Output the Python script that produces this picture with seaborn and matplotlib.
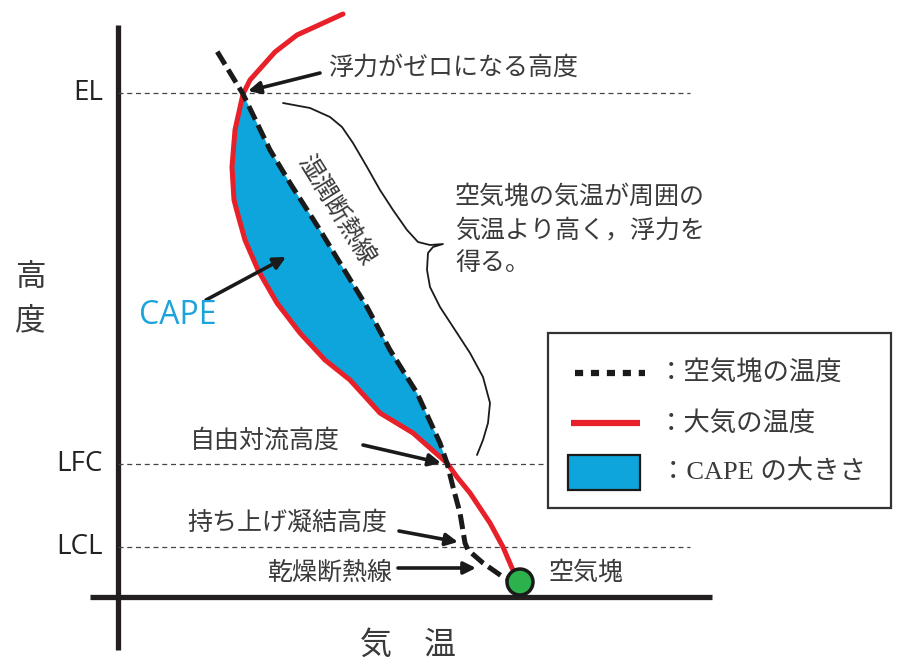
import numpy as np
import seaborn as sns
import matplotlib.pyplot as plt
from matplotlib.patches import Rectangle, Circle

# schematic units: x = temperature (left -> right), y = height (drawn top -> down)
env_t = [343, 297, 275, 250, 243, 235, 232, 234, 238, 245, 258, 277, 300, 325,
         350, 380, 413, 447, 457, 470, 490, 503, 512, 520]
env_z = [14, 35, 52, 80, 94, 130, 167, 200, 215, 240, 270, 303, 333, 360,
         380, 413, 433, 463, 477, 493, 523, 547, 568, 582]

parcel_t = [520, 503, 483, 468, 465, 460, 453, 447, 440, 417, 390, 367, 340,
            320, 290, 270, 243, 215]
parcel_z = [583, 577, 563, 550, 543, 513, 487, 463, 443, 393, 350, 307, 263,
            230, 183, 150, 94, 48]

brace_t = [283, 310, 330, 342, 353, 367, 380, 393, 407, 418, 430, 443,
           433, 428, 427, 430, 440, 457, 470, 483, 490, 488, 483, 477]
brace_z = [103, 108, 117, 127, 143, 167, 190, 210, 230, 242, 245, 244,
           247, 253, 270, 287, 307, 333, 353, 377, 403, 423, 440, 455]

level_names = ['EL', 'LFC', 'LCL']
level_z = [93, 464, 547]
level_end = [690, 548, 690]

sns.set_style('white')
plt.rcParams['font.family'] = ['Noto Sans CJK JP', 'DejaVu Sans']

fig = plt.figure(figsize=(8.98, 6.6), dpi=100)
ax = fig.add_axes([0, 0, 1, 1])
ax.set_xlim(0, 898)
ax.set_ylim(660, 0)
ax.axis('off')

txt = '#3a3a3a'

# axes of the diagram
ax.plot([118, 118], [25, 650], color='#231f20', lw=3.8, solid_capstyle='butt')
ax.plot([90, 712], [597, 597], color='#231f20', lw=3.8, solid_capstyle='butt')

# level lines
for name, z, x1 in zip(level_names, level_z, level_end):
    ax.plot([118, x1], [z, z], color='#444444', lw=0.9, ls=(0, (4, 3)))
    ax.text(103, z, name, ha='right', va='center', fontsize=20,
            family='Open Sans', color='#222222')

# CAPE area between EL and LFC
i0, i1 = env_t.index(243), env_t.index(447)
j0, j1 = parcel_t.index(447), parcel_t.index(243)
fill_t = env_t[i0:i1 + 1] + parcel_t[j0:j1 + 1]
fill_z = env_z[i0:i1 + 1] + parcel_z[j0:j1 + 1]
ax.fill(fill_t, fill_z, color='#0ea5dc', lw=0, zorder=2)

# environment and parcel temperature
sns.lineplot(x=env_t, y=env_z, sort=False, estimator=None, color='#e8202a',
             lw=3.6, ax=ax, zorder=3)
sns.lineplot(x=parcel_t, y=parcel_z, sort=False, estimator=None,
             color='#1a1a1a', lw=3.6, ax=ax, zorder=4)
ax.lines[-1].set_dashes([3.0, 1.2])
ax.lines[-1].set_dash_capstyle('butt')

# brace
sns.lineplot(x=brace_t, y=brace_z, sort=False, estimator=None, color='#1a1a1a',
             lw=1.3, ax=ax, zorder=3)
ax.lines[-1].set_solid_joinstyle('round')

# air parcel
ax.add_patch(Circle((520, 582), 13, facecolor='#2bb24c', edgecolor='#1a1a1a',
                    lw=2.5, zorder=6))
ax.text(548, 573, '空気塊', ha='left', va='center', fontsize=18, color=txt)

# annotations
arrow = dict(arrowstyle='-|>', color='#1a1a1a', lw=2.6, mutation_scale=18,
             shrinkA=0, shrinkB=0)
ax.annotate('', xy=(248, 91), xytext=(320, 73), arrowprops=arrow)
ax.text(328, 68, '浮力がゼロになる高度', ha='left', va='center', fontsize=18, color=txt)
ax.annotate('', xy=(441, 463), xytext=(363, 445), arrowprops=arrow)
ax.text(190, 441, '自由対流高度', ha='left', va='center', fontsize=18, color=txt)
ax.annotate('', xy=(458, 542), xytext=(399, 531), arrowprops=arrow)
ax.text(187, 523, '持ち上げ凝結高度', ha='left', va='center', fontsize=18, color=txt)
ax.annotate('', xy=(476, 568), xytext=(398, 568), arrowprops=arrow)
ax.text(268, 573, '乾燥断熱線', ha='left', va='center', fontsize=18, color=txt)
ax.annotate('', xy=(286, 257), xytext=(206, 300), arrowprops=arrow)
ax.text(178, 316, 'CAPE', ha='center', va='center', fontsize=23,
        family='Open Sans', color='#1ba3dc')

ax.text(336, 210, '湿潤断熱線', ha='center', va='center', fontsize=18,
        rotation=-58, color=txt, rotation_mode='anchor')

for k, line in enumerate(['空気塊の気温が周囲の', '気温より高く，浮力を', '得る。']):
    ax.text(455, 197 + 33 * k, line, ha='left', va='center', fontsize=18, color=txt)

# axis titles
ax.text(30, 277, '高', ha='center', va='center', fontsize=22, color=txt)
ax.text(30, 321, '度', ha='center', va='center', fontsize=22, color=txt)
ax.text(408, 645, '気　温', ha='center', va='center', fontsize=23, color=txt)

# legend
ax.add_patch(Rectangle((548, 333), 343, 175, facecolor='white',
                       edgecolor='#333333', lw=1.6, zorder=5))
ax.plot([575, 645], [373, 373], color='#1a1a1a', lw=4.5, zorder=6,
        dashes=[1.3, 1.25], dash_capstyle='butt')
ax.plot([571, 640], [423, 423], color='#e8202a', lw=4.5, zorder=6,
        solid_capstyle='butt')
ax.add_patch(Rectangle((568, 455), 72, 35, facecolor='#0ea5dc',
                       edgecolor='#1a1a1a', lw=1.6, zorder=6))
ax.text(658, 373, '：空気塊の温度', ha='left', va='center', fontsize=19,
        color=txt, zorder=7)
ax.text(658, 423, '：大気の温度', ha='left', va='center', fontsize=19,
        color=txt, zorder=7)
ax.text(660, 472, '：CAPE の大きさ', ha='left', va='center', fontsize=19,
        family=['Liberation Serif', 'Noto Sans CJK JP'], color=txt, zorder=7)

plt.savefig('out.png', dpi=100)
